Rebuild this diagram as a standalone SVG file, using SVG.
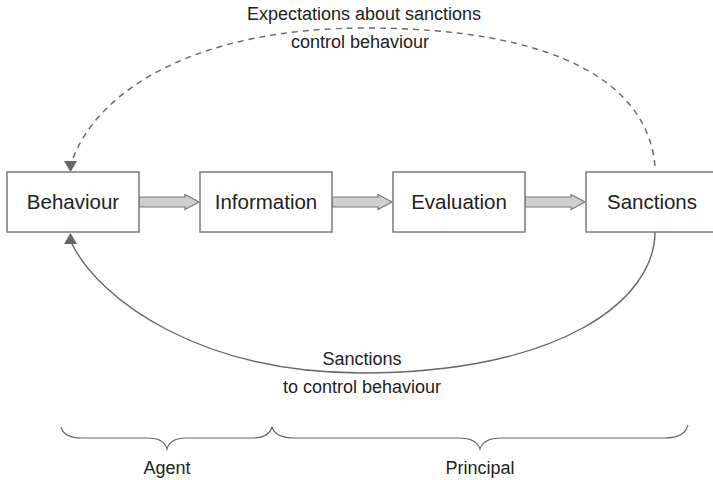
<svg xmlns="http://www.w3.org/2000/svg" width="713" height="480" viewBox="0 0 713 480">
<style>
.box{fill:#fff;stroke:#7a7a7a;stroke-width:1.5}
.bt{font-family:"Liberation Sans",Arial,sans-serif;font-size:20.5px;fill:#222;text-anchor:middle}
.lt{font-family:"Liberation Sans",Arial,sans-serif;font-size:18px;fill:#222;text-anchor:middle}
.blk{fill:#cfcfcf;stroke:#777;stroke-width:1.2}
.curve{fill:none;stroke:#666;stroke-width:1.4}
.dash{stroke-dasharray:6 5}
.head{fill:#666}
.brace{fill:none;stroke:#666;stroke-width:1.2}
</style>
<rect width="713" height="480" fill="#fff"/>
<g id="connectors">
<path class="blk" d="M139,197 H185 V194.5 L199,202 L185,209.5 V207 H139 Z"/>
<path class="blk" d="M332,197 H378 V194.5 L392,202 L378,209.5 V207 H332 Z"/>
<path class="blk" d="M525,197 H571 V194.5 L585,202 L571,209.5 V207 H525 Z"/>
<path class="curve dash" d="M655,166 C648,85 560,28 365,28 C200,28 98,88 72,161"/>
<polygon class="head" points="64,161 77,161 70.5,172"/>
<path class="curve" d="M655,232 C655,300 560,373 362,373 C200,373 100,300 72,244"/>
<polygon class="head" points="64,244 77,244 70.5,233"/>
</g>
<g id="behaviour"><rect class="box" x="7" y="172" width="132" height="60"/><text class="bt" x="73" y="209">Behaviour</text></g>
<g id="information"><rect class="box" x="200" y="172" width="132" height="60"/><text class="bt" x="266" y="209">Information</text></g>
<g id="evaluation"><rect class="box" x="393" y="172" width="132" height="60"/><text class="bt" x="459" y="209">Evaluation</text></g>
<g id="sanctions"><rect class="box" x="586" y="172" width="132" height="60"/><text class="bt" x="652" y="209">Sanctions</text></g>
<g id="labels">
<text class="lt" x="364" y="20">Expectations about sanctions</text>
<text class="lt" x="360" y="48">control behaviour</text>
<text class="lt" x="362" y="365">Sanctions</text>
<text class="lt" x="362" y="393">to control behaviour</text>
</g>
<g id="agent">
<path class="brace" d="M61,427 C63,435 70,438 82,438 H148 C160,438 165,442 167,449 C169,442 174,438 186,438 H252 C264,438 270,434 272,427"/>
<text class="lt" x="167" y="474">Agent</text>
</g>
<g id="principal">
<path class="brace" d="M272,427 C274,434 280,438 295,438 H458 C472,438 478,442 480,449 C482,442 488,438 502,438 H665 C680,438 686,433 688,425"/>
<text class="lt" x="480" y="474">Principal</text>
</g>
</svg>
